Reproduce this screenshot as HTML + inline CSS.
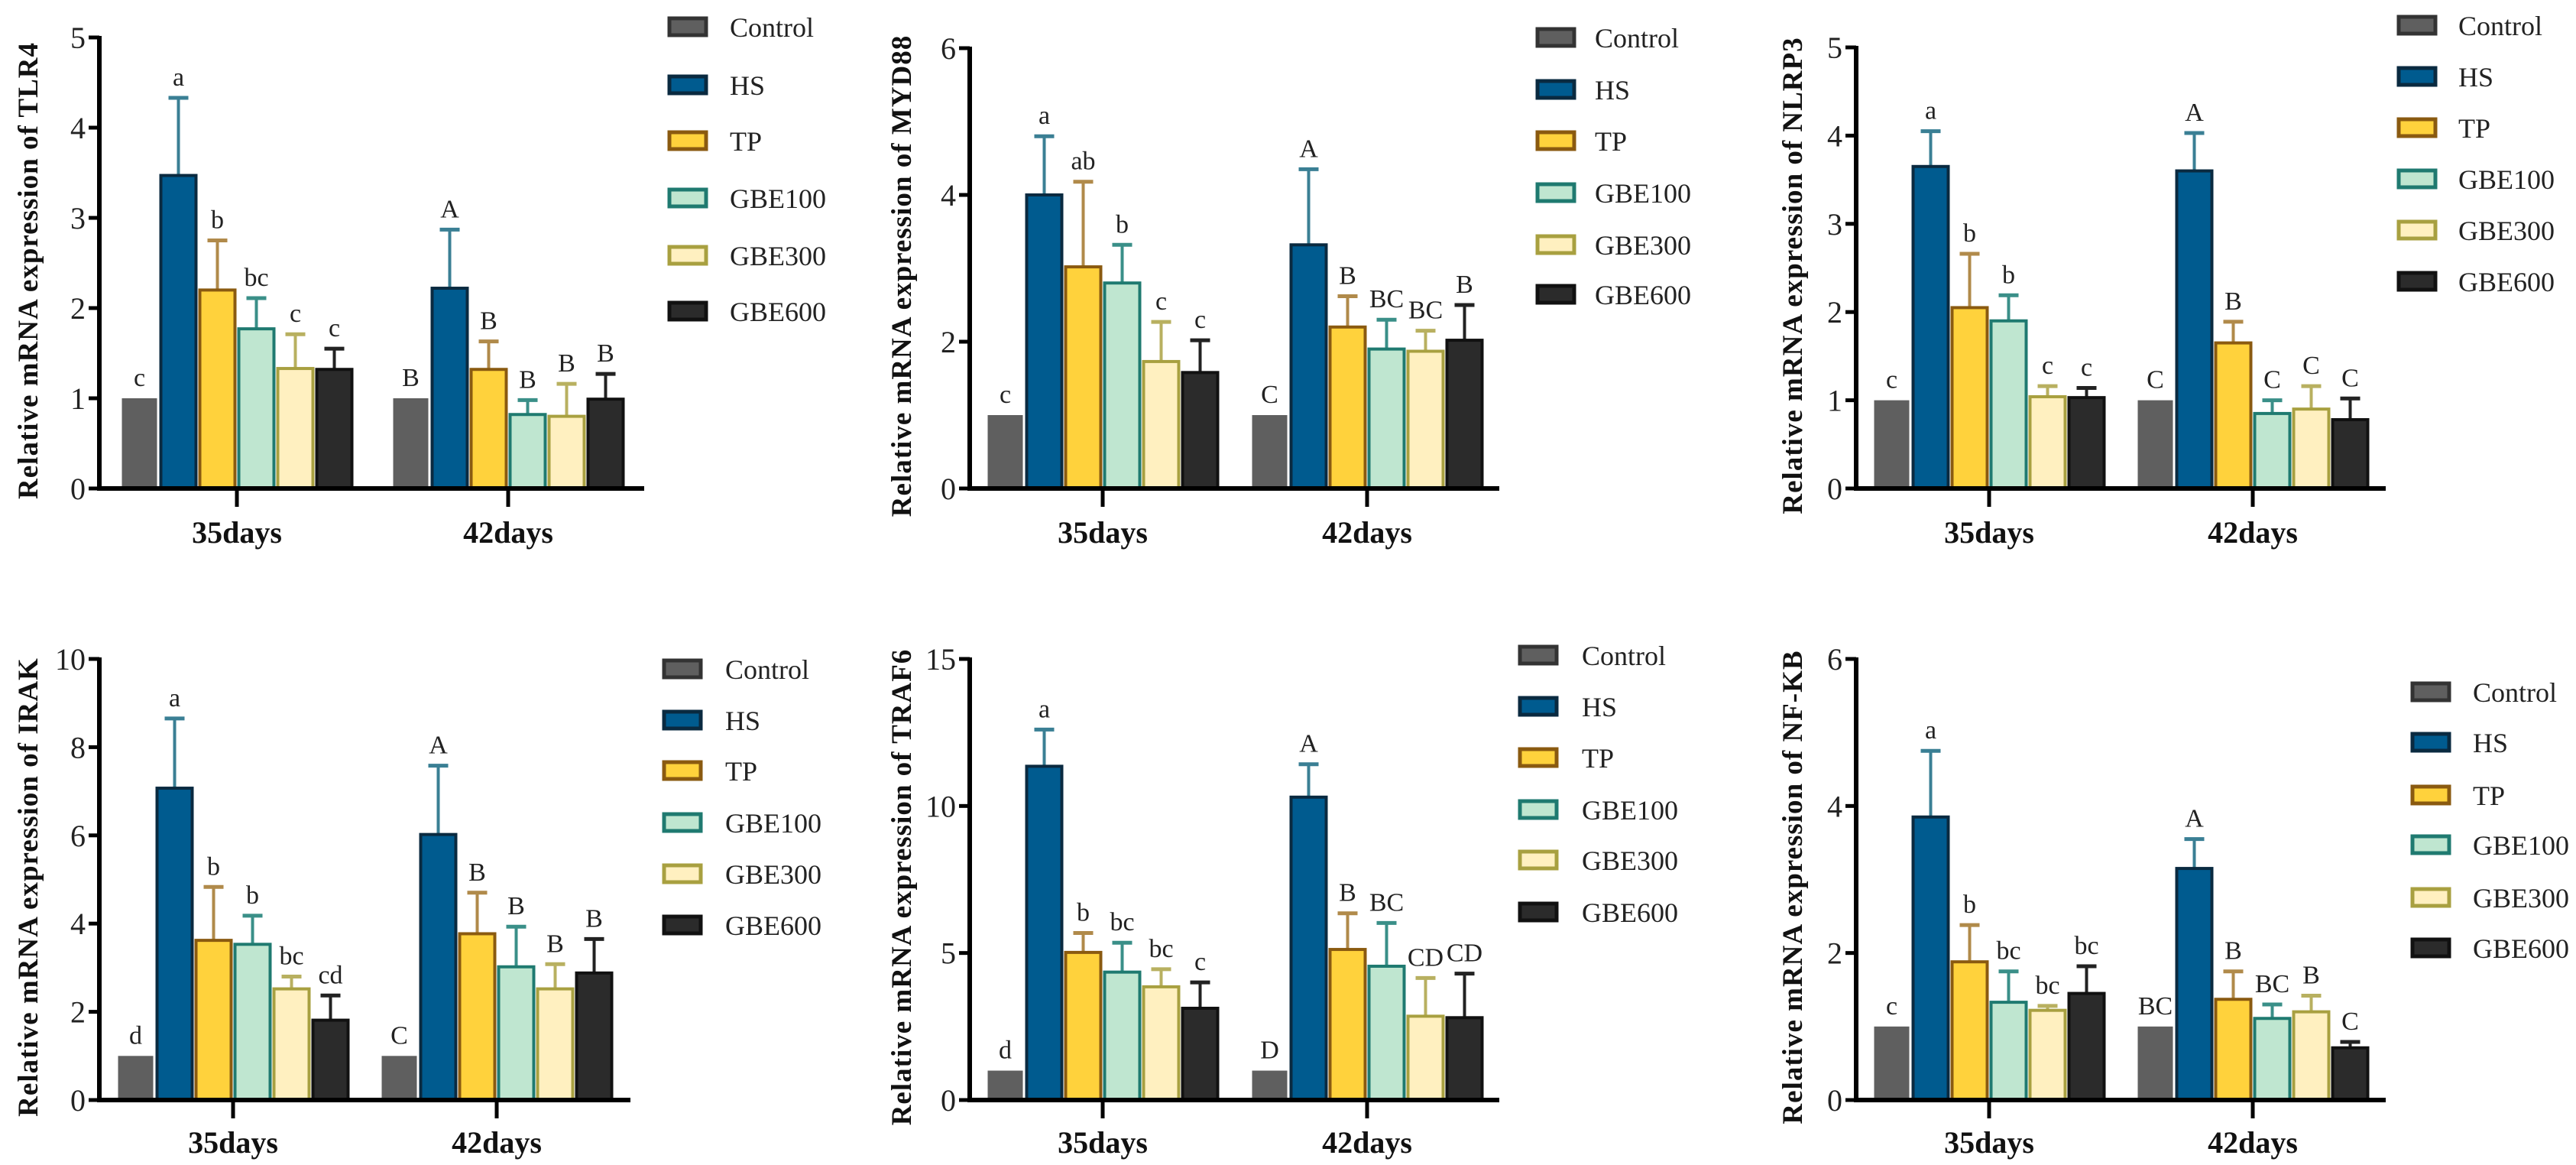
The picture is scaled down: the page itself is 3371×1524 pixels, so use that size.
<!DOCTYPE html>
<html><head><meta charset="utf-8">
<style>
html,body{margin:0;padding:0;background:#fff;}
svg{display:block;}
text{font-family:"Liberation Serif",serif;}
</style></head>
<body>
<svg id="fig" width="3371" height="1524" viewBox="0 0 3371 1524" xmlns="http://www.w3.org/2000/svg"></svg>
<script>
const groups = ["Control","HS","TP","GBE100","GBE300","GBE600"];
const timepoints = ["35days","42days"];

const tlr4_35 = [1,3.47,2.2,1.77,1.33,1.32];
const tlr4_35_err = [1,4.33,2.75,2.11,1.71,1.55];
const tlr4_35_sig = ["c","a","b","bc","c","c"];
const tlr4_42 = [1,2.22,1.32,0.82,0.8,0.99];
const tlr4_42_err = [1,2.87,1.63,0.98,1.16,1.27];
const tlr4_42_sig = ["B","A","B","B","B","B"];
const tlr4_ticks = [0,1,2,3,4,5];

const myd88_35 = [1,4,3.02,2.8,1.73,1.58];
const myd88_35_err = [1,4.8,4.18,3.32,2.27,2.02];
const myd88_35_sig = ["c","a","ab","b","c","c"];
const myd88_42 = [1,3.32,2.2,1.9,1.87,2.02];
const myd88_42_err = [1,4.35,2.62,2.3,2.15,2.5];
const myd88_42_sig = ["C","A","B","BC","BC","B"];
const myd88_ticks = [0,2,4,6];

const nlrp3_35 = [1,3.65,2.05,1.9,1.04,1.03];
const nlrp3_35_err = [1,4.05,2.66,2.19,1.16,1.14];
const nlrp3_35_sig = ["c","a","b","b","c","c"];
const nlrp3_42 = [1,3.6,1.65,0.85,0.9,0.78];
const nlrp3_42_err = [1,4.03,1.89,1.0,1.16,1.02];
const nlrp3_42_sig = ["C","A","B","C","C","C"];
const nlrp3_ticks = [0,1,2,3,4,5];

const irak_35 = [1,7.07,3.62,3.53,2.52,1.81];
const irak_35_err = [1,8.65,4.83,4.18,2.8,2.37];
const irak_35_sig = ["d","a","b","b","bc","cd"];
const irak_42 = [1,6.02,3.77,3.02,2.52,2.88];
const irak_42_err = [1,7.58,4.7,3.93,3.08,3.65];
const irak_42_sig = ["C","A","B","B","B","B"];
const irak_ticks = [0,2,4,6,8,10];

const traf6_35 = [1,11.35,5.02,4.35,3.85,3.12];
const traf6_35_err = [1,12.6,5.68,5.35,4.45,4.0];
const traf6_35_sig = ["d","a","b","bc","bc","c"];
const traf6_42 = [1,10.3,5.12,4.55,2.85,2.8];
const traf6_42_err = [1,11.42,6.35,6.02,4.15,4.3];
const traf6_42_sig = ["D","A","B","BC","CD","CD"];
const traf6_ticks = [0,5,10,15];

const nfkb_35 = [1,3.85,1.88,1.33,1.22,1.45];
const nfkb_35_err = [1,4.75,2.38,1.75,1.28,1.82];
const nfkb_35_sig = ["c","a","b","bc","bc","bc"];
const nfkb_42 = [1,3.15,1.37,1.11,1.2,0.71];
const nfkb_42_err = [1,3.55,1.75,1.3,1.42,0.79];
const nfkb_42_sig = ["BC","A","B","BC","B","C"];
const nfkb_ticks = [0,2,4,6];

const fills = ["#5f5f5f","#005b8f","#ffd23c","#bfe6d0","#fff0c0","#2b2b2b"];
const strokes = ["#333333","#0a2a40","#8a5a10","#1f7a70","#a8a040","#111111"];
const errCols = ["#333333","#3a7f94","#b08a4a","#3a8f88","#b8b060","#222222"];

const panels = [
 {name:"TLR4",ax:130,top:49,bot:639,right:843,ticksX:[310,665],ylx:49,legSx:874,legTx:955,legY:[35,111,184,259,334,407],labY:710,
  vals:[tlr4_35,tlr4_42],errs:[tlr4_35_err,tlr4_42_err],sig:[tlr4_35_sig,tlr4_42_sig],ticks:tlr4_ticks},
 {name:"MYD88",ax:1269,top:63,bot:639,right:1962,ticksX:[1443,1789],ylx:1192,legSx:2010,legTx:2087,legY:[49,117,184,252,320,385],labY:710,
  vals:[myd88_35,myd88_42],errs:[myd88_35_err,myd88_42_err],sig:[myd88_35_sig,myd88_42_sig],ticks:myd88_ticks},
 {name:"NLRP3",ax:2429,top:62,bot:639,right:3122,ticksX:[2603,2948],ylx:2358,legSx:3137,legTx:3217,legY:[33,100,167,234,301,368],labY:710,
  vals:[nlrp3_35,nlrp3_42],errs:[nlrp3_35_err,nlrp3_42_err],sig:[nlrp3_35_sig,nlrp3_42_sig],ticks:nlrp3_ticks},
 {name:"IRAK",ax:130,top:862,bot:1439,right:825,ticksX:[305,650],ylx:49,legSx:867,legTx:949,legY:[875,942,1008,1076,1143,1210],labY:1508,
  vals:[irak_35,irak_42],errs:[irak_35_err,irak_42_err],sig:[irak_35_sig,irak_42_sig],ticks:irak_ticks},
 {name:"TRAF6",ax:1269,top:862,bot:1439,right:1962,ticksX:[1443,1789],ylx:1192,legSx:1987,legTx:2070,legY:[857,924,991,1059,1125,1193],labY:1508,
  vals:[traf6_35,traf6_42],errs:[traf6_35_err,traf6_42_err],sig:[traf6_35_sig,traf6_42_sig],ticks:traf6_ticks},
 {name:"NF-KB",ax:2429,top:862,bot:1439,right:3122,ticksX:[2603,2948],ylx:2358,legSx:3155,legTx:3236,legY:[905,971,1040,1105,1174,1240],labY:1508,
  vals:[nfkb_35,nfkb_42],errs:[nfkb_35_err,nfkb_42_err],sig:[nfkb_35_sig,nfkb_42_sig],ticks:nfkb_ticks}
];

const NS="http://www.w3.org/2000/svg";
const svg=document.getElementById('fig');
function mk(tag,attrs,parent,txt){const e=document.createElementNS(NS,tag);for(const k in attrs)e.setAttribute(k,attrs[k]);if(txt!==undefined)e.textContent=txt;parent.appendChild(e);return e;}

const slot=51, bw=46;
panels.forEach((p)=>{
  const g=mk('g',{},svg);
  
  
  const ymax=p.ticks[p.ticks.length-1];
  const y=v=>p.bot-(v/ymax)*(p.bot-p.top);
  p.vals.forEach((series,gi)=>{
    const cx=p.ticksX[gi];
    series.forEach((v,i)=>{
      const x0=cx-3*slot+i*slot+(slot-bw)/2;
      const xc=x0+bw/2;
      if(i>0){
        const et=y(p.errs[gi][i]);
        const ln=mk('line',{x1:xc,x2:xc,y1:y(v),y2:et,stroke:errCols[i],'stroke-width':4},g);
        
        
        mk('line',{x1:xc-13,x2:xc+13,y1:et,y2:et,stroke:errCols[i],'stroke-width':5},g);
      }
      const r=mk('rect',{x:x0,y:y(v),width:bw,height:p.bot-y(v),fill:fills[i],stroke:strokes[i],'stroke-width':i===0?0:4},g);
      
      
      const top=i>0?y(p.errs[gi][i]):y(v);
      const t=mk('text',{x:xc,y:top-16,'text-anchor':'middle','font-size':34,fill:'#222'},g,p.sig[gi][i]);
      
      
    });
  });
  const ya=mk('line',{x1:p.ax,x2:p.ax,y1:p.top-2,y2:p.bot+3,stroke:'#000','stroke-width':6},g);
  
  
  const xa=mk('line',{x1:p.ax-3,x2:p.right,y1:p.bot,y2:p.bot,stroke:'#000','stroke-width':6},g);
  
  
  p.ticks.forEach(tv=>{
    mk('line',{x1:p.ax-14,x2:p.ax,y1:y(tv),y2:y(tv),stroke:'#000','stroke-width':5},g);
    const tl=mk('text',{x:p.ax-18,y:y(tv)+14,'text-anchor':'end','font-size':40,fill:'#222'},g,tv);
    
    
  });
  timepoints.forEach((tp,gi)=>{
    mk('line',{x1:p.ticksX[gi],x2:p.ticksX[gi],y1:p.bot,y2:p.bot+24,stroke:'#000','stroke-width':5},g);
    const xl=mk('text',{x:p.ticksX[gi],y:p.labY,'text-anchor':'middle','font-size':40,'font-weight':'bold',fill:'#111'},g,tp);
    
    
  });
  const cy=(p.top+p.bot)/2+10;
  const yt=mk('text',{x:p.ylx,y:cy,'text-anchor':'middle','font-size':37,'font-weight':'bold',fill:'#111',transform:`rotate(-90 ${p.ylx} ${cy})`,style:'letter-spacing:1px'},g,'Relative mRNA expression of '+p.name);
  
  
  groups.forEach((gn,i)=>{
    const ly=p.legY[i];
    const sw=mk('rect',{x:p.legSx+2,y:ly-11,width:48,height:22,fill:fills[i],stroke:strokes[i],'stroke-width':5},g);
    
    
    const lt=mk('text',{x:p.legTx,y:ly+13,'font-size':36,fill:'#222'},g,gn);
    
    
  });
});
</script>
</body></html>
